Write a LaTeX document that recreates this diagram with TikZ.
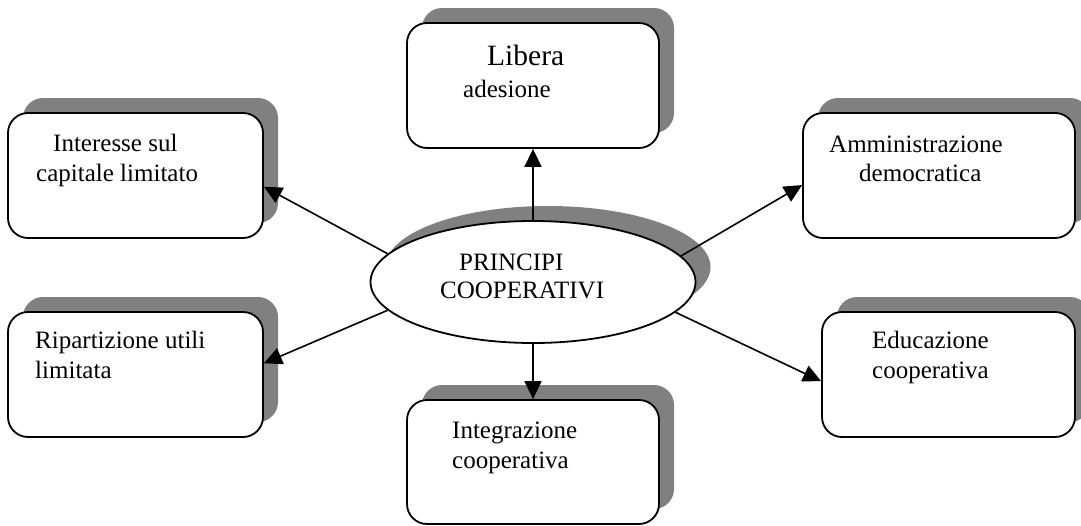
\documentclass[tikz,border=0pt]{standalone}
\usepackage{fontspec}
\setmainfont{Liberation Serif}
\usetikzlibrary{shapes.geometric,shadows,arrows.meta}
\definecolor{shadowgray}{HTML}{808080}
\tikzset{
  grayshadow/.style={drop shadow={shadow xshift=15pt, shadow yshift=15pt, fill=shadowgray, opacity=1}},
  box/.style={rectangle, draw=black, line width=1.8pt, fill=white, rounded corners=20pt,
              inner sep=0pt, grayshadow},
  oval/.style={ellipse, draw=black, line width=1.8pt, fill=white, inner sep=0pt,
               minimum width=325pt, minimum height=122pt, grayshadow},
  lbl/.style={anchor=base west, inner sep=0pt, font=\fontsize{25}{29}\selectfont},
  biglbl/.style={anchor=base west, inner sep=0pt, font=\fontsize{29.5}{34}\selectfont},
  conn/.style={line width=1.6pt, -{Triangle[length=18pt,width=17pt]}}
}
\begin{document}
\begin{tikzpicture}[x=1pt,y=-1pt]
\useasboundingbox (0,0) rectangle (1081,525);

% boxes
\node[box, minimum width=255pt, minimum height=125pt] (B1) at (135.5,175.5) {};
\node[box, minimum width=252pt, minimum height=125pt] (B2) at (533,85.5) {};
\node[box, minimum width=272pt, minimum height=125pt] (B3) at (939,175.5) {};
\node[box, minimum width=255pt, minimum height=125pt] (B4) at (135.5,374.5) {};
\node[box, minimum width=252pt, minimum height=124pt] (B5) at (533,462) {};
\node[box, minimum width=253pt, minimum height=125pt] (B6) at (948.5,374.5) {};

% centre ellipse
\node[oval] (ell) at (533,282) {};

% texts
\node[lbl] (t1a) at (53,151) {Interesse sul};
\node[lbl] (t1b) at (36,181) {capitale limitato};
\node[biglbl] (t2a) at (487,65) {Libera};
\node[lbl] (t2b) at (463,97) {adesione};
\node[lbl] (t3a) at (829,152) {Amministrazione};
\node[lbl] (t3b) at (859,181) {democratica};
\node[lbl] (t4a) at (35,348) {Ripartizione utili};
\node[lbl] (t4b) at (35,378) {limitata};
\node[lbl] (t5a) at (452,438) {Integrazione};
\node[lbl] (t5b) at (452,468) {cooperativa};
\node[lbl] (t6a) at (872,348) {Educazione};
\node[lbl] (t6b) at (872,378) {cooperativa};
\node[lbl] (t0a) at (459,270) {PRINCIPI};
\node[lbl] (t0b) at (440,298) {COOPERATIVI};

% connectors
\draw[conn] (ell.north) -- (B2.south);
\draw[conn] (ell.south) -- (B5.north);
\draw[conn] (ell.169.8) -- (B1.-5.6);
\draw[conn] (ell.191.7) -- (B4.5.2);
\draw[conn] (ell.10.1) -- (B3.184);
\draw[conn] (ell.348.4) -- (B6.183.4);
\end{tikzpicture}
\end{document}
